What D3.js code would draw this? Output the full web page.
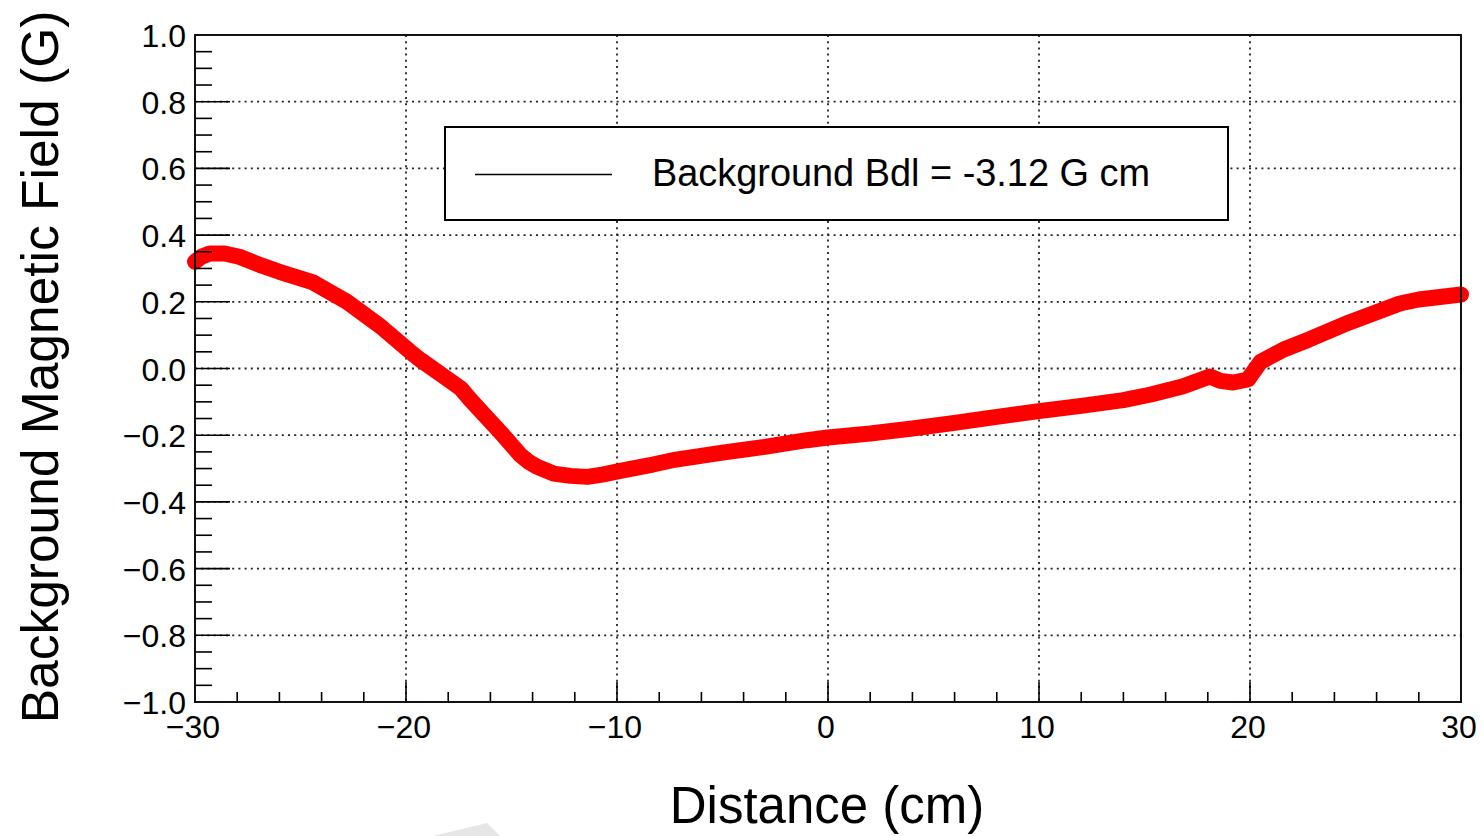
<!DOCTYPE html>
<html>
<head>
<meta charset="utf-8">
<script src="https://cdn.jsdelivr.net/npm/d3@7"></script>
<style>
  html, body { margin: 0; padding: 0; background: #fff; }
  svg { display: block; }
  text { font-family: "Liberation Sans", Arial, Helvetica, sans-serif; fill: #000; }
</style>
</head>
<body>
<svg id="chart" width="1483" height="836"></svg>
<script>
// Measured field profile along the beam axis
const distanceCm = [-30.0, -29.7, -29.3, -28.6, -27.9, -26.9, -26.0, -24.4, -22.8, -21.2,
  -19.7, -19.3, -18.4, -17.4, -17.0, -16.2, -15.4, -14.6, -14.2, -13.8, -13.0,
  -12.2, -11.4, -10.7, -9.9, -9.05, -8.3, -7.2, -5.0, -3.0, -1.0,
  0.0, 2.0, 4.0, 6.0, 8.0, 10.0, 12.0, 14.0, 15.3, 16.8,
  18.1, 18.6, 19.2, 19.9, 20.5, 21.6, 22.8, 24.7, 27.1, 28.0, 30.0];
const fieldG = [0.32, 0.335, 0.345, 0.345, 0.335, 0.31, 0.29, 0.258, 0.20, 0.126,
  0.045, 0.025, -0.015, -0.06, -0.09, -0.145, -0.20, -0.258, -0.279, -0.294, -0.315,
  -0.322, -0.325, -0.318, -0.308, -0.297, -0.288, -0.273, -0.252, -0.235, -0.215,
  -0.207, -0.195, -0.18, -0.163, -0.145, -0.128, -0.112, -0.095, -0.078, -0.054,
  -0.024, -0.037, -0.042, -0.033, 0.02, 0.057, 0.087, 0.138, 0.195, 0.207, 0.222];

const xTicks = [-30, -20, -10, 0, 10, 20, 30];
const yTicks = [-1.0, -0.8, -0.6, -0.4, -0.2, 0.0, 0.2, 0.4, 0.6, 0.8, 1.0];
const legendLabel = "Background Bdl = -3.12 G cm";
const xTitle = "Distance (cm)";
const yTitle = "Background Magnetic Field (G)";

const minus = s => s.replace("-", "\u2212");

const svg = d3.select("#chart");
const frameL = 195, frameR = 1461, frameT = 35, frameB = 702;

const x = d3.scaleLinear().domain([-30, 30]).range([frameL, frameR]);
const y = d3.scaleLinear().domain([-1, 1]).range([frameB, frameT]);

// faint mark at the lower edge of the canvas
svg.append("path")
  .attr("d", "M433,836 L487,823 L500,836 Z")
  .attr("fill", "#e6e6e6");

// dotted grid
const grid = svg.append("g")
  .attr("stroke", "#222").attr("stroke-width", 1.8)
  .attr("stroke-dasharray", "2 4.2");
grid.selectAll(".gx").data(xTicks.slice(1, -1)).join("line")
  .attr("x1", d => x(d)).attr("x2", d => x(d))
  .attr("y1", frameT).attr("y2", frameB);
grid.selectAll(".gy").data(yTicks.slice(1, -1)).join("line")
  .attr("x1", frameL).attr("x2", frameR)
  .attr("y1", d => y(d)).attr("y2", d => y(d));

// data curve
const line = d3.line().x(d => x(d[0])).y(d => y(d[1]));
svg.append("path")
  .datum(d3.zip(distanceCm, fieldG))
  .attr("d", line)
  .attr("fill", "none")
  .attr("stroke", "#ff0000")
  .attr("stroke-width", 16)
  .attr("stroke-linejoin", "round")
  .attr("stroke-linecap", "round");

// legend
const lg = svg.append("g");
lg.append("rect")
  .attr("x", 445).attr("y", 127).attr("width", 783).attr("height", 93)
  .attr("fill", "#fff").attr("stroke", "#000").attr("stroke-width", 2);
lg.append("line")
  .attr("x1", 475).attr("x2", 612).attr("y1", 174.5).attr("y2", 174.5)
  .attr("stroke", "#000").attr("stroke-width", 1.6);
lg.append("text")
  .attr("x", 652).attr("y", 186)
  .attr("font-size", 38)
  .attr("textLength", 498).attr("lengthAdjust", "spacingAndGlyphs")
  .text(legendLabel);

// y axis ticks (major and minor, drawn inward)
const yMinor = d3.range(-1, 1.0001, 0.05);
svg.append("g").attr("stroke", "#000").attr("stroke-width", 1.6)
  .selectAll("line").data(yMinor).join("line")
  .attr("x1", frameL)
  .attr("x2", (d, i) => frameL + (i % 4 === 0 ? 35 : 17))
  .attr("y1", d => y(d)).attr("y2", d => y(d));

// x axis ticks
const xMinor = d3.range(-30, 30.0001, 2);
svg.append("g").attr("stroke", "#000").attr("stroke-width", 1.6)
  .selectAll("line").data(xMinor).join("line")
  .attr("x1", d => x(d)).attr("x2", d => x(d))
  .attr("y1", frameB)
  .attr("y2", (d, i) => frameB - (i % 5 === 0 ? 20 : 10));

// frame
svg.append("rect")
  .attr("x", frameL).attr("y", frameT)
  .attr("width", frameR - frameL).attr("height", frameB - frameT)
  .attr("fill", "none").attr("stroke", "#111").attr("stroke-width", 2);

// tick labels
svg.append("g").selectAll("text").data(yTicks).join("text")
  .attr("x", 186).attr("y", d => y(d) + 12)
  .attr("text-anchor", "end").attr("font-size", 32)
  .text(d => minus(d3.format(".1f")(d)));

svg.append("g").selectAll("text").data(xTicks).join("text")
  .attr("x", d => x(d) - 2).attr("y", 738)
  .attr("text-anchor", "middle").attr("font-size", 32)
  .text(d => minus(String(d)));

// axis titles
svg.append("text")
  .attr("x", 827).attr("y", 823)
  .attr("text-anchor", "middle").attr("font-size", 51)
  .text(xTitle);

svg.append("text")
  .attr("transform", "translate(58,367) rotate(-90)")
  .attr("text-anchor", "middle").attr("font-size", 51.5)
  .text(yTitle);
</script>
</body>
</html>
